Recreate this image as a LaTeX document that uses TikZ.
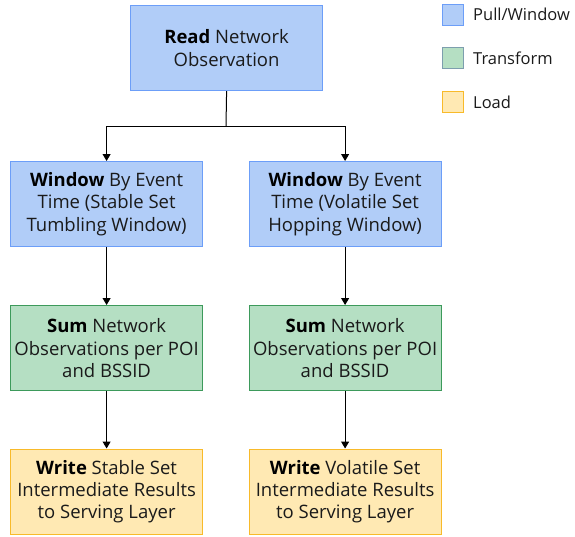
\documentclass[tikz,border=0pt]{standalone}
\usepackage{fontspec}
\setmainfont{Open Sans}
\usetikzlibrary{arrows.meta}
\definecolor{bfill}{HTML}{B1CDF8}
\definecolor{bdraw}{HTML}{6C9EF8}
\definecolor{gfill}{HTML}{B5DFC3}
\definecolor{gdraw}{HTML}{3D9A5B}
\definecolor{yfill}{HTML}{FFE9B3}
\definecolor{ydraw}{HTML}{F8BA2A}
\definecolor{lgdraw}{HTML}{7D9EAE}
\definecolor{txt}{HTML}{1A1A1A}
\begin{document}
\begin{tikzpicture}[x=1pt,y=-1pt,
  box/.style={draw, line width=1.2pt, minimum width=192pt, minimum height=85pt, inner sep=0pt,
    align=center, text=txt, font=\fontsize{18.5}{22.3}\selectfont, anchor=north west},
  pullbox/.style={box, fill=bfill, draw=bdraw},
  trbox/.style={box, fill=gfill, draw=gdraw},
  loadbox/.style={box, fill=yfill, draw=ydraw},
  legsq/.style={draw, line width=1.2pt, minimum size=21pt, inner sep=0pt, anchor=north west},
  legtxt/.style={anchor=west, text=txt, font=\fontsize{16.5}{20}\selectfont, inner sep=0pt},
  conn/.style={draw=black, line width=1pt, -{Triangle[length=7pt,width=8pt]}}]
\useasboundingbox (0,0) rectangle (575,536);
\node[pullbox] (read) at (130,5) {\textbf{\color{black}Read} Network\\Observation};
\node[pullbox] (winL) at (10,161) {\textbf{\color{black}Window} By Event\\Time (Stable Set\\Tumbling Window)};
\node[pullbox] (winR) at (248.5,161) {\textbf{\color{black}Window} By Event\\Time (Volatile Set\\Hopping Window)};
\node[trbox] (sumL) at (10,305) {\textbf{\color{black}Sum} Network\\Observations per POI\\and BSSID};
\node[trbox] (sumR) at (248.5,305) {\textbf{\color{black}Sum} Network\\Observations per POI\\and BSSID};
\node[loadbox] (wrL) at (10,448.5) {\textbf{\color{black}Write} Stable Set\\Intermediate Results\\to Serving Layer};
\node[loadbox] (wrR) at (248.5,448.5) {\textbf{\color{black}Write} Volatile Set\\Intermediate Results\\to Serving Layer};
\coordinate (split) at (226,126);
\draw[line width=1pt] (read.south) -- (split);
\draw[conn] (split) -| (winL.north);
\draw[conn] (split) -| (winR.north);
\draw[conn] (winL) -- (sumL);
\draw[conn] (winR) -- (sumR);
\draw[conn] (sumL) -- (wrL);
\draw[conn] (sumR) -- (wrR);
\node[legsq, fill=bfill, draw=bdraw] (lg1) at (441.5,3.5) {};
\node[legsq, fill=gfill, draw=lgdraw] (lg2) at (441.5,47) {};
\node[legsq, fill=yfill, draw=ydraw] (lg3) at (441.5,91) {};
\node[legtxt] (lt1) at (473,14) {Pull/Window};
\node[legtxt] (lt2) at (473,58) {Transform};
\node[legtxt] (lt3) at (473,102) {Load};
\end{tikzpicture}
\end{document}
